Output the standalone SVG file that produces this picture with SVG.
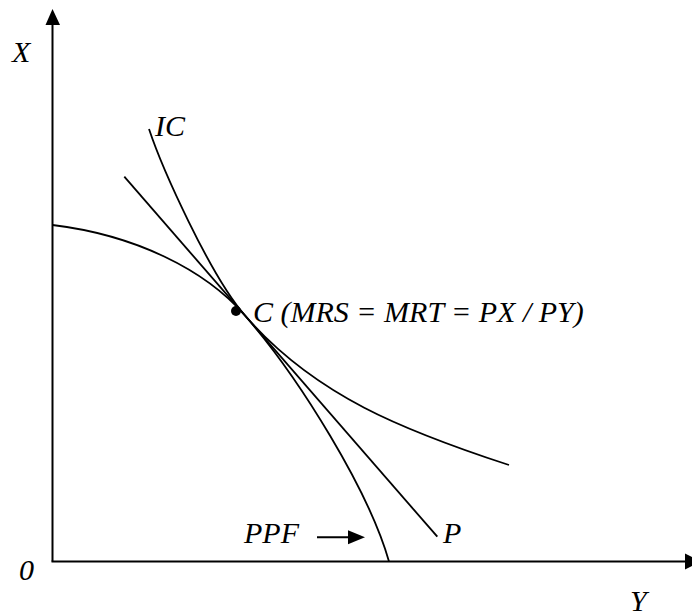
<svg xmlns="http://www.w3.org/2000/svg" width="692" height="616" viewBox="0 0 692 616">
<style>
.ln{fill:none;stroke:#000;stroke-width:2}
.cv{fill:none;stroke:#000;stroke-width:1.8}
.t{font-family:"Liberation Serif","Times New Roman",serif;font-style:italic;font-size:30px;fill:#000}
</style>
<rect width="692" height="616" fill="#fff"/>
<g id="axes">
<line class="ln" x1="52.5" y1="20" x2="52.5" y2="561.5"/>
<polygon points="52.5,9 45.5,25 60,25" fill="#000"/>
<line class="ln" x1="51.5" y1="561.5" x2="690" y2="561.5"/>
<polygon points="685,553.5 701,561.5 685,569.5" fill="#000"/>
<text class="t" x="12" y="62">X</text>
<text class="t" x="19" y="580">0</text>
<text class="t" x="630" y="611">Y</text>
</g>
<g id="connectors">
<path id="ppf" class="cv" d="M52.5,225 C135,235 205,269.5 245,315.5 C300,378.8 369,491 389,561.5"/>
<path id="ic" class="cv" d="M149,129 C162,168 210,275.3 245,315.5 C315,396 405,431 509,465"/>
<line id="p" class="cv" x1="124.3" y1="176.7" x2="437.3" y2="536.7"/>
<line class="ln" x1="317" y1="537.3" x2="350" y2="537.3"/>
<polygon points="348,530.3 365,537.3 348,544.3" fill="#000"/>
</g>
<g id="point-c">
<circle cx="236" cy="311" r="5" fill="#000"/>
<text class="t" x="253" y="322">C (MRS = MRT = PX / PY)</text>
</g>
<g id="label-ic"><text class="t" x="155" y="136">IC</text></g>
<g id="label-ppf"><text class="t" x="244" y="543">PPF</text></g>
<g id="label-p"><text class="t" x="443" y="543">P</text></g>
</svg>
